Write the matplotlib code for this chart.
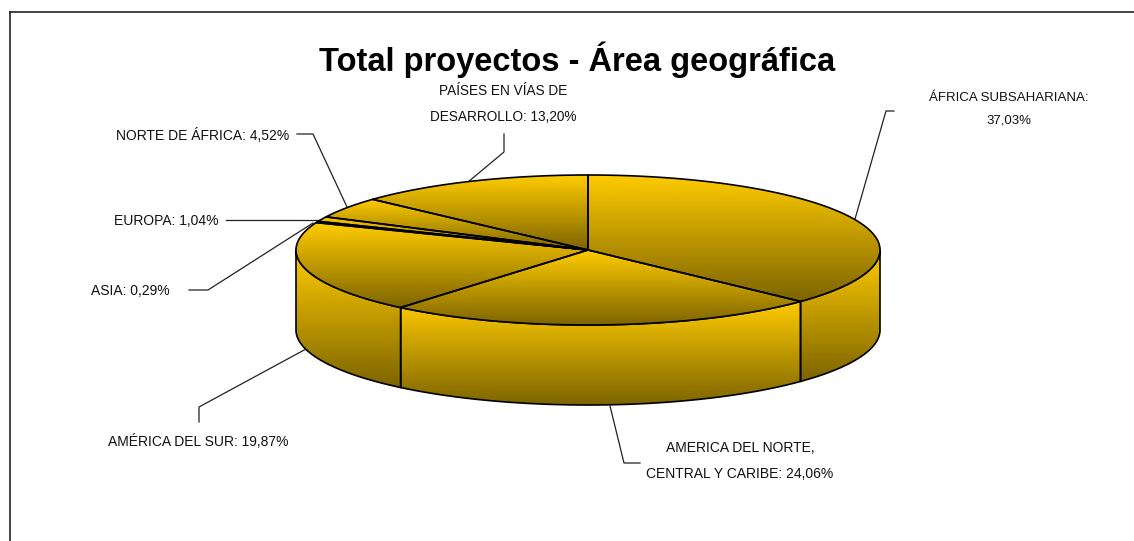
import numpy as np
import matplotlib
matplotlib.use("Agg")
import matplotlib.pyplot as plt
from matplotlib.colors import LinearSegmentedColormap
from matplotlib.patches import Polygon

categories = ["ÁFRICA SUBSAHARIANA", "AMERICA DEL NORTE,\nCENTRAL Y CARIBE", "AMÉRICA DEL SUR",
              "ASIA", "EUROPA", "NORTE DE ÁFRICA", "PAÍSES EN VÍAS DE\nDESARROLLO"]
values = [37.03, 24.06, 19.87, 0.29, 1.04, 4.52, 13.20]
value_labels = ["37,03%", "24,06%", "19,87%", "0,29%", "1,04%", "4,52%", "13,20%"]
title = "Total proyectos - Área geográfica"

# layout (pixels)
CX, CY, RX, RY, DEPTH = 588, 250, 292, 75, 80
label_pos = [(1009, 109, "\n", 9.5), (740, 461, " ", 10), (198, 441, " ", 10),
             (130, 291, " ", 10), (166, 221, " ", 10), (203, 135, " ", 10),
             (503, 104, " ", 9.8)]
leaders = [[(855, 219), (886, 111), (894, 111)],
           [(610, 406), (624, 463), (640, 463)],
           [(306, 349), (199, 407), (199, 422)],
           [(313, 223), (208, 290), (189, 290)],
           [(320, 220), (226, 220)],
           [(347, 207), (313, 134), (297, 134)],
           [(468, 182), (504, 152), (504, 134)]]

plt.rcParams["font.family"] = ["Liberation Sans", "DejaVu Sans"]
fig = plt.figure(figsize=(11.34, 5.41), dpi=100)
ax = fig.add_axes([0, 0, 1, 1])
ax.set_xlim(0, 1134)
ax.set_ylim(541, 0)
ax.axis("off")
cmap = LinearSegmentedColormap.from_list("g", ["#FFCC00", "#7D6400"])
grad = np.linspace(0, 1, 256).reshape(-1, 1)


def ell(th):
    return CX + RX * np.sin(th), CY - RY * np.cos(th)


def fill(xs, ys, z):
    poly = Polygon(np.c_[xs, ys], closed=True, fc="none", ec="black", lw=1.2, zorder=z + 1, joinstyle="round")
    ax.add_patch(poly)
    im = ax.imshow(grad, cmap=cmap, aspect="auto", zorder=z, interpolation="bilinear",
                   extent=(xs.min(), xs.max(), ys.max(), ys.min()))
    im.set_clip_path(poly)


ax.set_autoscale_on(False)
edges = np.cumsum([0] + values) / sum(values) * 2 * np.pi
# sides (visible half only)
for a, b in zip(edges[:-1], edges[1:]):
    lo, hi = max(a, np.pi / 2), min(b, 3 * np.pi / 2)
    if hi > lo:
        t = np.linspace(lo, hi, 120)
        x, y = ell(t)
        fill(np.r_[x, x[::-1]], np.r_[y, y[::-1] + DEPTH], 2)
# top face
for a, b in zip(edges[:-1], edges[1:]):
    t = np.linspace(a, b, 160)
    x, y = ell(t)
    fill(np.r_[CX, x], np.r_[CY, y], 4)

for lab, v, (lx, ly, sep, fs) in zip(categories, value_labels, label_pos):
    ax.text(lx, ly, f"{lab}:{sep}{v}", ha="center", va="center", fontsize=fs, color="#111111",
            linespacing=2.15, zorder=8)
for pts in leaders:
    ax.plot(*zip(*pts), color="#222222", lw=0.9, zorder=1)

ax.text(577, 60, title, ha="center", va="center", fontsize=23.5, fontweight="bold", color="black", zorder=8)
# frame open at right/bottom image edges
ax.plot([10, 10], [541, 12], color="#222222", lw=1.2, zorder=9)
ax.plot([10, 1134], [12, 12], color="#222222", lw=1.2, zorder=9)
ax.set_xlim(0, 1134)
ax.set_ylim(541, 0)
fig.savefig("out.png", dpi=100, facecolor="white")
